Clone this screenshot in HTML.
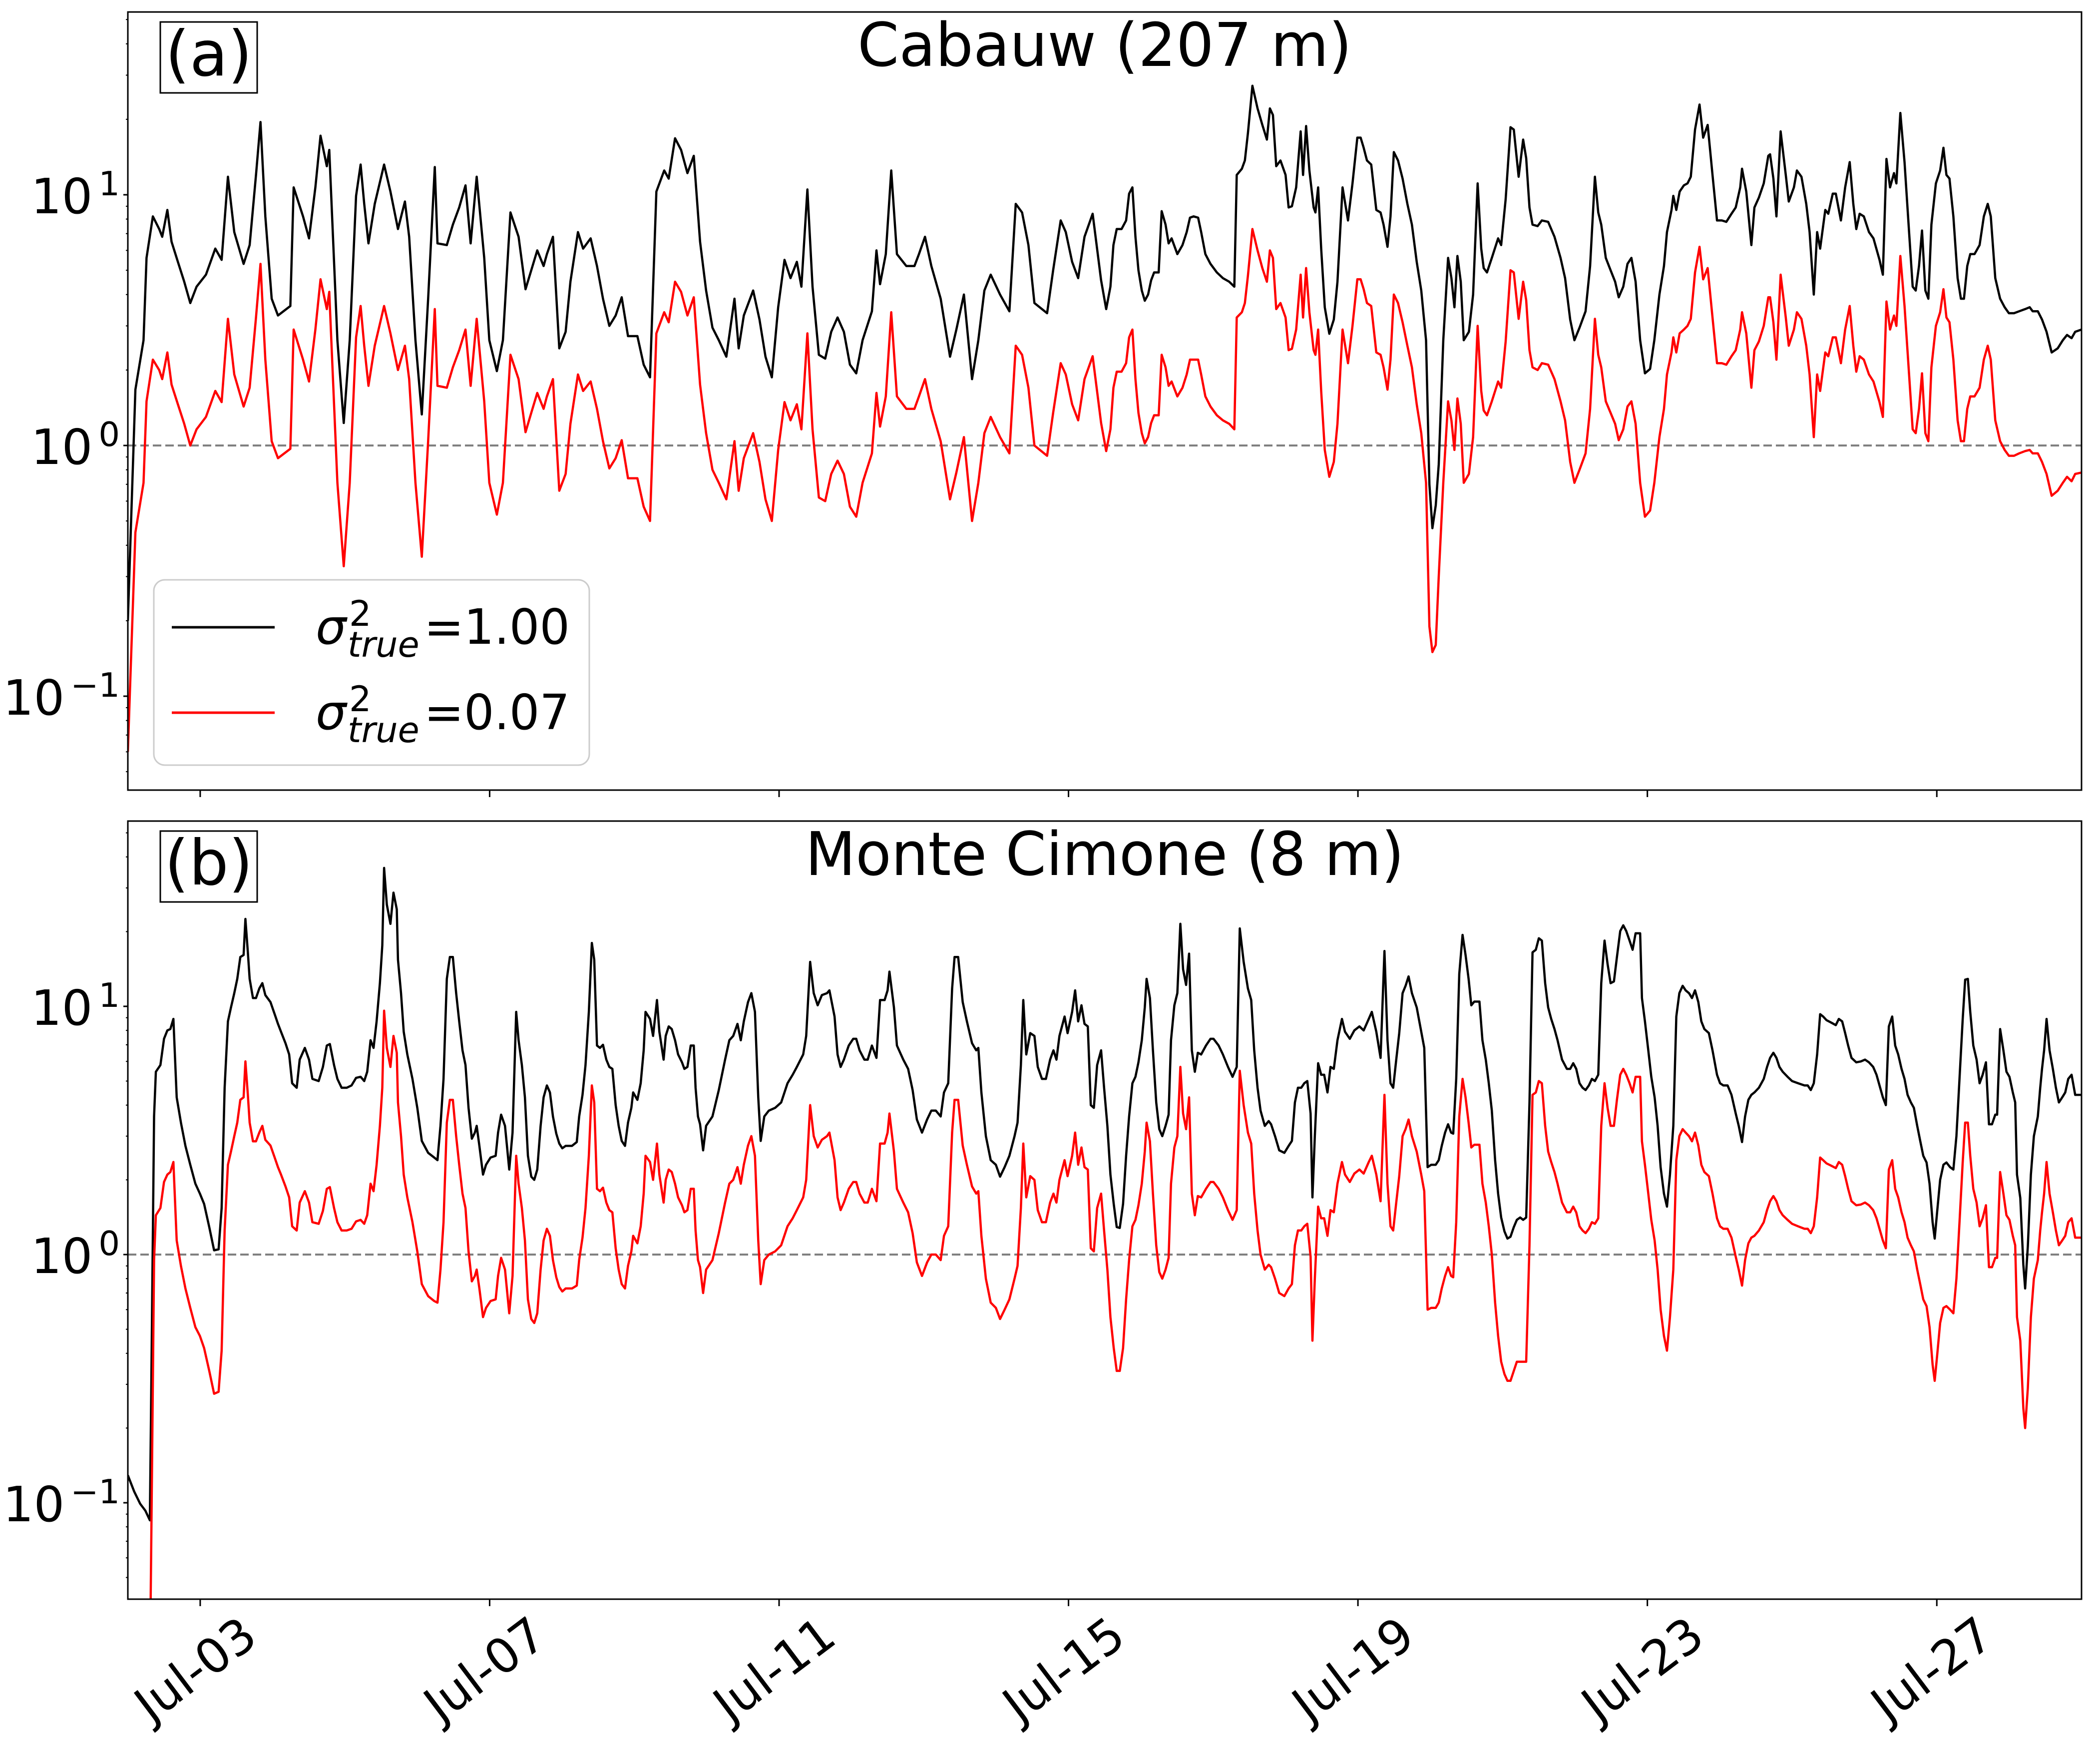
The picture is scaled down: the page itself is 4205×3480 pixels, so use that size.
<!DOCTYPE html>
<html><head><meta charset="utf-8"><title>Cabauw / Monte Cimone</title>
<style>
html,body{margin:0;padding:0;background:#fff;}
svg{display:block;font-family:"DejaVu Sans","Liberation Sans",sans-serif;}
</style></head>
<body>
<svg id="fig" xmlns="http://www.w3.org/2000/svg" width="4205" height="3480" viewBox="0 0 4205 3480">
<rect x="0" y="0" width="4205" height="3480" fill="#fff"/>
<defs>
<clipPath id="clipA"><rect x="256" y="24" width="3912" height="1558"/></clipPath>
<clipPath id="clipB"><rect x="256" y="1644" width="3912" height="1558"/></clipPath>
</defs>
<g id="panelA"></g>
<g id="panelB"></g>
</svg>
<script>
// x categories: hours since start of axis; tick labels
const tickHours = [24, 120, 216, 312, 408, 504, 600];
const tickLabels = ["Jul-03","Jul-07","Jul-11","Jul-15","Jul-19","Jul-23","Jul-27"];
const yTickExps = [1, 0, -1];

// Cabauw (207 m) — sigma^2_true = 1.00  [hour, value]
const cabauwBlack = [[0,0.2],[2.5,1.67],[5.2,2.63],[6.2,5.6],[8.3,8.2],[10.4,7.3],[11.4,6.8],[13.1,8.7],[14.5,6.5],[16.6,5.4],[18.7,4.5],[20.7,3.7],[22.8,4.3],[25.9,4.8],[29.0,6.1],[31.1,5.5],[33.2,11.8],[35.3,7.1],[38.4,5.3],[40.4,6.3],[42.5,12.0],[44.0,19.5],[45.6,8.2],[47.7,3.85],[49.8,3.3],[53.9,3.6],[55.0,10.7],[58.1,8.2],[60.1,6.7],[62.2,10.7],[63.9,17.2],[66.0,13.0],[66.8,15.1],[69.5,2.63],[71.6,1.23],[73.6,2.63],[75.7,9.9],[77.2,13.2],[78.4,9.2],[79.8,6.4],[81.9,9.2],[85.0,13.2],[87.1,10.3],[89.6,7.3],[91.9,9.4],[93.3,6.8],[95.4,2.63],[97.5,1.33],[99.6,3.85],[101.8,12.9],[102.7,6.4],[105.8,6.3],[107.8,7.6],[109.9,8.9],[112.0,10.9],[113.7,6.4],[115.7,11.8],[118.2,5.6],[119.9,2.63],[122.4,1.98],[124.4,2.63],[126.9,8.5],[129.6,6.8],[131.9,4.2],[133.8,5.0],[135.8,6.0],[137.9,5.2],[139.0,5.8],[141.0,6.8],[143.1,2.44],[145.2,2.84],[146.8,4.5],[149.3,7.1],[151.0,6.1],[153.5,6.7],[155.6,5.2],[157.6,3.85],[159.7,3.0],[161.8,3.3],[163.8,3.9],[165.9,2.73],[169.0,2.73],[171.1,2.1],[173.2,1.87],[175.3,10.3],[177.9,12.5],[179.4,11.6],[181.5,16.8],[183.5,15.1],[185.6,12.2],[187.7,14.3],[189.8,6.5],[191.8,4.15],[193.9,2.95],[196.0,2.63],[198.5,2.26],[201.2,3.85],[202.6,2.44],[204.3,3.3],[207.4,4.15],[209.5,3.18],[211.5,2.26],[213.6,1.87],[215.7,3.56],[217.8,5.5],[219.8,4.65],[221.9,5.4],[223.4,4.3],[225.4,10.5],[227.1,4.3],[229.2,2.3],[231.3,2.22],[233.3,2.84],[235.4,3.24],[237.5,2.84],[239.5,2.1],[241.6,1.94],[243.7,2.63],[246.8,3.43],[248.3,6.0],[249.5,4.4],[251.4,5.8],[253.2,12.5],[255.1,5.8],[258.2,5.2],[260.9,5.2],[262.4,5.8],[264.4,6.8],[266.5,5.2],[269.6,3.85],[272.7,2.26],[274.8,2.9],[277.3,4.0],[280.0,1.84],[282.1,2.63],[284.1,4.15],[286.2,4.8],[289.3,4.0],[292.4,3.43],[294.5,9.2],[296.6,8.5],[298.7,6.3],[300.7,3.7],[304.9,3.37],[306.9,5.0],[309.4,7.9],[311.1,7.1],[313.2,5.4],[315.2,4.65],[317.3,6.8],[320.0,8.4],
[322.8,4.56],[324.5,3.5],[325.9,4.3],[326.9,6.3],[328.0,7.3],[329.6,7.3],[331.1,7.9],[332.1,10.1],[333.2,10.7],[334.2,6.8],[335.2,5.0],[336.3,4.15],[337.3,3.78],[338.4,4.0],[339.4,4.56],[340.4,4.9],[341.9,4.9],[342.9,8.6],[344.2,7.6],[345.2,6.4],[346.2,6.7],[348.1,5.8],[349.8,6.3],[351.2,7.1],[352.3,8.1],[353.5,8.2],[355.0,8.1],[356.0,7.1],[357.4,5.8],[359.1,5.3],[361.2,4.9],[363.2,4.65],[365.3,4.5],[367.0,4.3],[367.8,12.0],[369.5,12.7],[370.5,13.7],[371.5,17.6],[373.0,27.2],[374.7,22.1],[376.3,19.0],[377.8,16.6],[378.8,22.1],[379.8,20.8],[380.9,13.0],[382.3,13.7],[384.0,12.0],[385.0,8.9],[386.1,9.0],[387.5,10.7],[389.0,17.9],[389.8,12.0],[390.8,18.8],[391.9,12.5],[393.3,8.9],[393.9,8.5],[394.8,10.7],[395.8,6.1],[397.0,3.56],[398.5,2.79],[400.0,3.18],[401.2,4.5],[402.9,10.7],[404.7,7.9],[406.2,11.1],[407.8,16.9],[408.9,16.9],[409.9,15.4],[411.0,13.7],[412.4,13.2],[414.1,8.7],[415.5,8.5],[416.5,7.6],[417.8,6.2],[418.8,8.2],[419.9,14.8],[421.3,13.7],[422.8,11.6],[424.4,9.2],[425.9,7.6],[427.5,5.4],[429.0,4.15],[429.8,3.3],[430.6,2.63],[431.7,0.70],[432.7,0.468],[433.8,0.577],[434.8,0.84],[436.3,2.63],[437.9,5.6],[439.0,4.65],[440.0,3.56],[441.0,5.7],[442.1,4.5],[443.1,2.63],[444.8,2.84],[446.2,4.0],[447.7,11.1],[448.9,6.1],[449.7,5.1],[450.8,4.9],[452.4,5.6],[454.5,6.7],[455.5,6.3],[457.0,9.6],[458.6,18.6],[459.7,18.2],[461.3,11.8],[462.8,16.6],[463.8,14.0],[464.9,8.9],[465.9,7.6],[467.6,7.5],[469.0,7.9],[471.1,7.8],[473.2,6.8],[475.2,5.6],[476.7,4.65],[478.4,3.18],[479.8,2.63],[481.5,2.95],[483.5,3.43],[485.0,5.2],[486.6,11.8],[487.7,8.5],[488.7,7.6],[490.2,5.6],[491.8,5.0],[493.3,4.5],[494.5,3.9],[496.0,4.3],[497.4,5.3],[498.7,5.6],[500.1,4.5],[501.6,2.63],[503.2,1.94],[504.9,2.02],[506.3,2.63],[508.0,4.0],[509.5,5.2],[510.5,7.1],[512.0,8.7],[512.6,9.9],[513.6,8.7],[514.7,10.3],[516.1,10.9],[517.3,11.1],[518.4,11.8],[519.8,18.2],[521.3,22.9],[522.5,16.9],[524.0,19.0],[525.6,12.0],[527.1,7.9],[528.7,7.9],[530.2,7.8],[531.9,8.4],[533.3,8.9],[534.8,10.7],[535.4,12.7],[536.8,10.3],[538.5,6.3],[539.5,8.9],[541.0,9.75],[542.6,11.1],[544.1,14.3],[544.7,14.5],[545.8,11.6],[546.8,8.2],[548.2,17.9],[549.9,12.0],[550.9,9.4],[552.6,10.7],[553.6,12.5],[555.1,11.8],[556.7,9.2],[557.8,7.1],[559.2,4.0],[560.3,7.1],[561.3,6.1],[563.0,8.7],[564.0,8.4],[565.5,10.1],[566.5,10.1],[568.2,7.9],[569.6,10.7],[571.1,13.5],[572.3,9.2],[573.3,7.3],[574.4,8.4],[575.8,8.2],[577.5,7.1],[579.0,6.7],[581.0,5.5],[582.1,4.8],[583.3,13.9],[584.5,10.7],[585.8,12.2],[586.6,11.1],[587.9,21.2],[589.3,13.5],[590.8,7.1],[592.0,4.3],[593.0,4.15],[594.1,5.2],[595.1,7.2],[596.2,4.15],[597.2,3.85],[598.2,7.6],[599.7,11.1],[601.1,12.5],[602.2,15.4],[603.2,12.0],[604.2,11.6],[605.5,8.2],[606.9,4.65],[608.0,3.85],[609.0,3.85],[610.1,5.2],[611.1,5.8],[612.5,5.8],[614.2,6.3],[615.6,8.2],[616.9,9.2],[617.9,8.2],[619.4,4.65],[621.0,3.85],[622.5,3.56],[623.9,3.37],[625.6,3.37],[627.3,3.43],[629.3,3.5],[630.8,3.56],[631.8,3.43],[633.5,3.43],[634.9,3.18],[636.4,2.84],[638.1,2.35],[640.1,2.44],[641.8,2.63],[643.2,2.76],[644.7,2.68],[645.9,2.84],[648,2.9]];

// Cabauw (207 m) — sigma^2_true = 0.07  [hour, value]
const cabauwRed = [[0,0.06],[2.5,0.45],[5.2,0.71],[6.2,1.5],[8.3,2.2],[10.4,2.0],[11.4,1.84],[13.1,2.35],[14.5,1.75],[16.6,1.46],[18.7,1.22],[20.7,1.0],[22.8,1.16],[25.9,1.3],[29.0,1.65],[31.1,1.49],[33.2,3.2],[35.3,1.92],[38.4,1.43],[40.4,1.7],[42.5,3.24],[44.0,5.3],[45.6,2.2],[47.7,1.04],[49.8,0.89],[53.9,0.97],[55.0,2.9],[58.1,2.2],[60.1,1.8],[62.2,2.9],[63.9,4.6],[66.0,3.5],[66.8,4.1],[69.5,0.71],[71.6,0.33],[73.6,0.71],[75.7,2.7],[77.2,3.6],[78.4,2.5],[79.8,1.73],[81.9,2.5],[85.0,3.6],[87.1,2.8],[89.6,2.0],[91.9,2.5],[93.3,1.84],[95.4,0.71],[97.5,0.36],[99.6,1.04],[101.8,3.5],[102.7,1.73],[105.8,1.7],[107.8,2.05],[109.9,2.4],[112.0,2.9],[113.7,1.73],[115.7,3.2],[118.2,1.5],[119.9,0.71],[122.4,0.53],[124.4,0.71],[126.9,2.3],[129.6,1.84],[131.9,1.13],[133.8,1.35],[135.8,1.62],[137.9,1.4],[139.0,1.57],[141.0,1.84],[143.1,0.66],[145.2,0.77],[146.8,1.22],[149.3,1.92],[151.0,1.65],[153.5,1.8],[155.6,1.4],[157.6,1.04],[159.7,0.81],[161.8,0.89],[163.8,1.05],[165.9,0.74],[169.0,0.74],[171.1,0.57],[173.2,0.5],[175.3,2.8],[177.9,3.4],[179.4,3.1],[181.5,4.5],[183.5,4.1],[185.6,3.3],[187.7,3.9],[189.8,1.75],[191.8,1.12],[193.9,0.8],[196.0,0.71],[198.5,0.61],[201.2,1.04],[202.6,0.66],[204.3,0.89],[207.4,1.12],[209.5,0.86],[211.5,0.61],[213.6,0.5],[215.7,0.96],[217.8,1.49],[219.8,1.26],[221.9,1.46],[223.4,1.16],[225.4,2.8],[227.1,1.16],[229.2,0.62],[231.3,0.6],[233.3,0.77],[235.4,0.87],[237.5,0.77],[239.5,0.57],[241.6,0.52],[243.7,0.71],[246.8,0.93],[248.3,1.62],[249.5,1.19],[251.4,1.57],[253.2,3.4],[255.1,1.57],[258.2,1.4],[260.9,1.4],[262.4,1.57],[264.4,1.84],[266.5,1.4],[269.6,1.04],[272.7,0.61],[274.8,0.78],[277.3,1.08],[280.0,0.5],[282.1,0.71],[284.1,1.12],[286.2,1.3],[289.3,1.08],[292.4,0.93],[294.5,2.5],[296.6,2.3],[298.7,1.7],[300.7,1.0],[304.9,0.91],[306.9,1.35],[309.4,2.13],[311.1,1.92],[313.2,1.46],[315.2,1.26],[317.3,1.84],[320.0,2.27],
[322.8,1.23],[324.5,0.95],[325.9,1.16],[326.9,1.7],[328.0,1.97],[329.6,1.97],[331.1,2.13],[332.1,2.7],[333.2,2.9],[334.2,1.84],[335.2,1.35],[336.3,1.12],[337.3,1.02],[338.4,1.08],[339.4,1.23],[340.4,1.32],[341.9,1.32],[342.9,2.3],[344.2,2.05],[345.2,1.73],[346.2,1.8],[348.1,1.57],[349.8,1.7],[351.2,1.92],[352.3,2.2],[353.5,2.2],[355.0,2.2],[356.0,1.92],[357.4,1.57],[359.1,1.43],[361.2,1.32],[363.2,1.26],[365.3,1.22],[367.0,1.16],[367.8,3.24],[369.5,3.4],[370.5,3.7],[371.5,4.75],[373.0,7.3],[374.7,6.0],[376.3,5.1],[377.8,4.5],[378.8,6.0],[379.8,5.6],[380.9,3.5],[382.3,3.7],[384.0,3.24],[385.0,2.4],[386.1,2.43],[387.5,2.9],[389.0,4.8],[389.8,3.24],[390.8,5.1],[391.9,3.4],[393.3,2.4],[393.9,2.3],[394.8,2.9],[395.8,1.65],[397.0,0.96],[398.5,0.75],[400.0,0.86],[401.2,1.22],[402.9,2.9],[404.7,2.13],[406.2,3.0],[407.8,4.6],[408.9,4.6],[409.9,4.2],[411.0,3.7],[412.4,3.6],[414.1,2.35],[415.5,2.3],[416.5,2.05],[417.8,1.67],[418.8,2.2],[419.9,4.0],[421.3,3.7],[422.8,3.1],[424.4,2.5],[425.9,2.05],[427.5,1.46],[429.0,1.12],[429.8,0.89],[430.6,0.71],[431.7,0.19],[432.7,0.15],[433.8,0.16],[434.8,0.3],[436.3,0.71],[437.9,1.5],[439.0,1.26],[440.0,0.96],[441.0,1.54],[442.1,1.22],[443.1,0.71],[444.8,0.77],[446.2,1.08],[447.7,3.0],[448.9,1.65],[449.7,1.38],[450.8,1.32],[452.4,1.5],[454.5,1.8],[455.5,1.7],[457.0,2.6],[458.6,5.0],[459.7,4.9],[461.3,3.2],[462.8,4.5],[463.8,3.8],[464.9,2.4],[465.9,2.05],[467.6,2.0],[469.0,2.13],[471.1,2.1],[473.2,1.84],[475.2,1.5],[476.7,1.26],[478.4,0.86],[479.8,0.71],[481.5,0.8],[483.5,0.93],[485.0,1.4],[486.6,3.2],[487.7,2.3],[488.7,2.05],[490.2,1.5],[491.8,1.35],[493.3,1.22],[494.5,1.05],[496.0,1.16],[497.4,1.43],[498.7,1.5],[500.1,1.22],[501.6,0.71],[503.2,0.52],[504.9,0.55],[506.3,0.71],[508.0,1.08],[509.5,1.4],[510.5,1.92],[512.0,2.35],[512.6,2.7],[513.6,2.35],[514.7,2.8],[516.1,2.9],[517.3,3.0],[518.4,3.2],[519.8,4.9],[521.3,6.2],[522.5,4.6],[524.0,5.1],[525.6,3.24],[527.1,2.13],[528.7,2.13],[530.2,2.1],[531.9,2.27],[533.3,2.4],[534.8,2.9],[535.4,3.4],[536.8,2.8],[538.5,1.7],[539.5,2.4],[541.0,2.6],[542.6,3.0],[544.1,3.9],[544.7,3.9],[545.8,3.1],[546.8,2.2],[548.2,4.8],[549.9,3.24],[550.9,2.5],[552.6,2.9],[553.6,3.4],[555.1,3.2],[556.7,2.5],[557.8,1.92],[559.2,1.08],[560.3,1.92],[561.3,1.65],[563.0,2.35],[564.0,2.27],[565.5,2.7],[566.5,2.7],[568.2,2.13],[569.6,2.9],[571.1,3.6],[572.3,2.5],[573.3,1.97],[574.4,2.27],[575.8,2.2],[577.5,1.92],[579.0,1.8],[581.0,1.49],[582.1,1.3],[583.3,3.75],[584.5,2.9],[585.8,3.3],[586.6,3.0],[587.9,5.7],[589.3,3.6],[590.8,1.92],[592.0,1.16],[593.0,1.12],[594.1,1.4],[595.1,1.94],[596.2,1.12],[597.2,1.04],[598.2,2.05],[599.7,3.0],[601.1,3.4],[602.2,4.2],[603.2,3.24],[604.2,3.1],[605.5,2.2],[606.9,1.26],[608.0,1.04],[609.0,1.04],[610.1,1.4],[611.1,1.57],[612.5,1.57],[614.2,1.7],[615.6,2.2],[616.9,2.5],[617.9,2.2],[619.4,1.26],[621.0,1.04],[622.5,0.96],[623.9,0.91],[625.6,0.91],[627.3,0.93],[629.3,0.95],[630.8,0.96],[631.8,0.93],[633.5,0.93],[634.9,0.86],[636.4,0.77],[638.1,0.63],[640.1,0.66],[641.8,0.71],[643.2,0.75],[644.7,0.72],[645.9,0.77],[648,0.78]];

// Monte Cimone (8 m) — sigma^2_true = 1.00  [hour, value]
const cimoneBlack = [[0,0.129],[2.1,0.111],[4.1,0.099],[5.8,0.093],[7.3,0.085],[7.9,0.41],[8.7,3.6],[9.3,5.45],[10.8,5.8],[12.0,7.4],[13.1,8.0],[14.1,8.1],[15.1,8.9],[16.2,4.3],[17.6,3.4],[19.1,2.74],[20.7,2.3],[22.4,1.93],[23.9,1.76],[25.3,1.6],[27.0,1.29],[28.6,1.04],[30.1,1.05],[31.1,1.54],[32.1,4.7],[33.2,8.7],[34.2,9.9],[35.3,11.3],[36.3,12.9],[37.3,15.8],[38.4,16.1],[39.0,22.5],[39.8,16.5],[40.4,12.9],[41.5,10.8],[42.5,10.8],[43.6,11.8],[44.6,12.4],[45.6,11.1],[47.3,10.4],[48.7,9.3],[49.8,8.5],[50.8,7.9],[52.3,7.1],[53.5,6.4],[54.5,4.9],[56.0,4.7],[57.0,6.1],[58.7,6.8],[60.1,6.1],[61.2,5.1],[63.3,5.0],[64.7,5.7],[66.0,6.95],[67.0,7.05],[68.4,5.8],[69.5,5.1],[70.9,4.7],[72.6,4.7],[74.2,4.8],[75.7,5.15],[77.2,5.2],[78.4,5.0],[79.4,5.45],[80.5,7.3],[81.5,6.8],[82.5,8.7],[83.6,12.4],[84.4,17.6],[85.0,36.1],[85.9,25.7],[87.1,21.5],[88.1,28.7],[89.2,24.6],[89.6,15.4],[90.6,11.3],[91.5,7.9],[92.7,6.4],[94.4,5.1],[96.0,3.9],[97.5,2.87],[99.6,2.57],[101.6,2.46],[102.7,2.4],[103.7,3.3],[104.7,5.1],[105.8,12.9],[106.8,15.8],[107.8,15.8],[108.9,11.3],[109.9,8.7],[111.0,6.65],[112.0,5.8],[113.0,3.9],[114.1,2.93],[115.1,3.1],[115.7,3.3],[116.6,2.74],[117.8,2.1],[118.8,2.3],[120.3,2.46],[122.0,2.5],[122.8,3.1],[123.8,3.66],[125.1,3.3],[126.5,2.2],[127.6,3.1],[128.8,9.5],[129.6,7.3],[130.7,5.8],[131.7,4.3],[132.7,2.5],[133.8,2.06],[134.8,2.0],[135.8,2.2],[136.9,3.3],[137.9,4.3],[139.0,4.8],[140.0,4.5],[141.0,3.6],[142.1,3.07],[143.1,2.8],[144.1,2.68],[145.2,2.74],[147.3,2.74],[148.9,2.84],[149.7,3.6],[150.8,4.4],[151.8,5.8],[152.9,9.5],[153.9,18.0],[154.7,15.4],[155.6,6.95],[156.6,6.8],[157.6,7.0],[158.7,6.1],[159.7,5.7],[160.7,5.6],[161.8,4.0],[162.8,3.3],[163.8,2.87],[164.9,2.74],[165.9,3.4],[167.0,3.9],[167.6,4.5],[169.0,4.2],[170.1,4.9],[171.1,6.65],[171.7,9.5],[173.2,8.9],[174.2,7.6],[175.5,10.6],[176.3,7.9],[177.7,6.1],[178.4,7.6],[179.4,8.3],[180.4,8.1],[181.5,7.3],[182.5,6.4],[183.8,5.95],[184.6,5.6],[185.6,5.7],[186.7,6.95],[187.7,6.95],[188.3,4.7],[189.1,3.6],[189.8,3.35],[190.8,2.63],[191.8,3.3],[193.9,3.6],[196.0,4.6],[198.1,6.1],[199.5,7.3],[200.8,7.6],[202.2,8.5],[203.3,7.3],[204.3,8.7],[205.7,10.4],[206.8,11.3],[208.0,9.5],[209.1,4.3],[209.9,2.87],[211.1,3.6],[212.6,3.8],[214.7,3.9],[216.7,4.1],[218.8,4.9],[220.5,5.3],[221.9,5.7],[224.0,6.4],[225.0,7.6],[226.3,15.1],[227.5,11.3],[228.8,10.1],[230.2,11.1],[231.9,11.3],[232.7,11.6],[234.4,9.1],[235.4,6.4],[236.4,5.7],[237.5,6.1],[239.1,6.95],[240.6,7.4],[241.6,7.4],[242.7,6.65],[244.3,6.1],[245.4,6.1],[246.8,6.95],[248.3,6.2],[249.5,10.6],[251.0,10.6],[252.0,11.6],[252.6,13.8],[254.1,9.9],[255.1,6.95],[257.2,6.1],[258.8,5.6],[260.3,4.6],[261.7,3.5],[263.4,3.1],[265.1,3.5],[266.5,3.8],[268.0,3.8],[269.6,3.6],[270.7,4.5],[272.1,4.9],[273.4,11.8],[274.2,15.8],[275.4,15.8],[276.9,10.4],[278.3,8.7],[280.0,7.1],[281.4,6.65],[282.1,6.8],[283.1,4.5],[284.6,3.0],[286.2,2.4],[287.9,2.3],[289.3,2.06],[290.8,2.25],[292.4,2.5],[294.1,3.0],[295.1,3.4],[296.2,5.8],[297.0,10.6],[298.0,6.4],[299.3,7.8],[300.7,7.6],[301.8,5.7],[303.2,5.1],[304.5,5.1],[305.9,6.1],[307.0,6.65],[308.0,6.1],[309.0,7.6],[310.7,9.1],[311.7,7.8],[313.2,9.5],[314.2,11.6],[315.2,8.7],[316.3,10.1],[317.3,8.5],[318.4,8.3],[319.4,4.0],[320.4,3.9],[321.5,5.8],
[322.8,6.65],[323.8,4.7],[324.9,3.3],[325.9,2.1],[327.0,1.6],[328.0,1.29],[329.0,1.28],[330.1,1.6],[331.1,2.5],[332.1,3.6],[333.2,4.9],[334.2,5.2],[335.2,5.95],[336.3,7.3],[337.3,9.9],[337.9,12.9],[339.0,10.8],[340.0,6.65],[341.1,4.1],[342.1,3.2],[343.1,3.0],[344.2,3.3],[345.2,3.66],[346.0,7.3],[347.1,10.1],[348.1,11.3],[349.1,21.5],[350.0,14.1],[351.0,12.2],[352.0,16.3],[352.9,6.65],[353.9,5.45],[354.9,6.5],[356.0,6.4],[357.6,6.95],[359.1,7.4],[360.1,7.4],[361.8,6.95],[363.2,6.4],[364.9,5.7],[366.4,5.2],[367.8,5.7],[368.8,20.6],[370.1,15.1],[371.5,11.8],[372.6,10.6],[373.6,6.65],[374.7,4.7],[375.7,3.8],[377.1,3.3],[378.4,3.45],[379.2,3.35],[380.5,3.0],[381.9,2.63],[383.6,2.57],[385.0,2.74],[386.1,2.87],[387.1,4.1],[388.1,4.7],[389.2,4.7],[390.2,4.9],[391.2,5.0],[392.3,3.7],[392.9,1.7],[393.7,3.0],[394.8,5.9],[395.8,5.3],[396.8,5.3],[397.9,4.5],[398.9,5.7],[400.0,5.6],[401.2,7.3],[402.7,8.9],[403.7,7.9],[405.3,7.4],[406.8,8.0],[408.5,8.3],[409.9,8.0],[411.6,8.9],[412.6,9.5],[414.1,7.9],[415.5,6.2],[416.8,16.7],[417.8,7.3],[418.8,4.9],[419.7,4.7],[420.7,6.1],[421.7,7.8],[422.8,11.3],[423.8,12.1],[424.8,13.2],[425.9,11.3],[427.5,9.9],[429.0,7.9],[430.0,6.8],[431.1,2.25],[432.3,2.3],[433.8,2.3],[434.8,2.4],[435.8,2.74],[436.9,3.1],[437.9,3.35],[438.9,3.1],[439.6,3.07],[440.6,5.1],[441.6,13.5],[442.7,19.4],[443.7,16.1],[444.7,12.9],[445.6,10.1],[446.6,10.45],[448.3,10.45],[449.3,7.3],[450.4,6.1],[451.4,4.9],[452.4,3.8],[453.5,2.4],[454.5,1.76],[455.5,1.41],[456.6,1.24],[457.6,1.16],[458.6,1.18],[459.7,1.29],[460.7,1.38],[461.8,1.41],[462.8,1.38],[463.8,1.41],[464.9,4.1],[465.9,16.5],[467.0,16.9],[468.0,18.8],[469.0,18.4],[470.1,12.4],[471.1,9.9],[472.1,8.9],[473.2,8.1],[474.2,7.3],[475.7,6.1],[477.3,5.6],[478.4,5.6],[479.4,5.9],[480.4,5.6],[481.5,4.9],[482.5,4.7],[483.5,4.6],[484.6,4.8],[485.6,5.1],[486.6,5.0],[487.7,5.3],[488.7,12.4],[489.8,18.4],[490.8,14.8],[491.8,12.4],[492.9,12.6],[493.9,15.8],[495.0,20.1],[496.0,21.2],[497.0,20.1],[498.1,18.4],[499.1,16.9],[500.1,19.7],[501.6,19.7],[502.2,10.8],[503.2,8.7],[504.3,6.65],[505.3,5.2],[506.4,4.3],[507.4,3.3],[508.4,2.25],[509.5,1.76],[510.5,1.56],[511.5,2.1],[512.6,3.3],[513.6,9.1],[514.6,11.3],[515.7,12.1],[516.7,11.6],[517.8,11.3],[518.8,10.8],[519.8,11.6],[520.9,10.4],[521.9,8.7],[522.9,8.1],[524.4,7.8],[525.6,6.65],[527.1,5.3],[528.1,4.9],[529.2,4.8],[530.6,4.8],[531.9,4.4],[533.3,3.7],[534.3,3.3],[535.4,2.84],[536.4,3.6],[537.5,4.2],[538.5,4.4],[539.5,4.5],[541.0,4.7],[542.6,5.1],[543.7,5.7],[544.7,6.2],[545.8,6.5],[546.8,6.2],[547.8,5.7],[548.9,5.45],[550.5,5.2],[552.0,5.0],[554.0,4.9],[556.1,4.8],[557.2,4.8],[558.2,4.6],[559.2,4.9],[560.3,6.4],[561.3,9.3],[562.3,9.1],[563.4,8.8],[565.0,8.6],[566.5,8.4],[567.5,8.9],[568.6,8.7],[569.6,7.8],[570.6,6.95],[571.7,6.2],[573.3,5.95],[574.8,6.0],[576.2,6.1],[577.5,5.95],[578.9,5.7],[580.0,5.3],[581.0,4.8],[582.1,4.3],[583.1,4.0],[584.1,8.3],[585.2,9.1],[586.2,6.95],[587.2,6.4],[588.3,5.6],[589.3,5.1],[590.3,4.4],[591.4,4.1],[592.4,3.9],[593.5,3.3],[594.5,2.87],[595.5,2.5],[596.6,2.35],[597.6,1.93],[598.6,1.35],[599.3,1.16],[600.1,1.48],[601.1,2.0],[602.2,2.3],[603.2,2.35],[604.4,2.25],[605.5,2.2],[606.5,3.0],[607.6,5.3],[608.6,8.9],[609.4,12.8],[610.3,12.9],[611.1,9.5],[612.1,6.95],[613.2,6.1],[614.2,4.9],[615.2,5.3],[616.3,5.95],[617.3,3.35],[618.3,3.35],[619.4,3.66],[620.0,3.66],[621.0,8.1],[622.1,6.65],[623.1,5.45],[624.1,5.2],[625.2,4.5],[626.0,4.1],[626.6,2.1],[627.7,1.69],[628.7,0.91],[629.3,0.73],[630.2,1.08],[631.2,2.1],[632.2,3.0],[633.5,3.6],[634.3,4.7],[634.9,5.6],[635.6,6.65],[636.4,8.9],[637.4,6.65],[638.5,5.6],[639.5,4.7],[640.5,4.1],[641.6,4.3],[642.6,4.5],[643.6,5.1],[644.7,5.3],[645.9,4.4],[648,4.4]];

// Monte Cimone (8 m) — sigma^2_true = 0.07  [hour, value]
const cimoneRed = [[0,0.02],[2.1,0.02],[4.1,0.02],[5.8,0.02],[7.3,0.02],[7.9,0.1],[8.7,0.95],[9.3,1.44],[10.8,1.54],[12.0,1.96],[13.1,2.1],[14.1,2.15],[15.1,2.36],[16.2,1.14],[17.6,0.9],[19.1,0.73],[20.7,0.61],[22.4,0.51],[23.9,0.47],[25.3,0.42],[27.0,0.34],[28.6,0.275],[30.1,0.28],[31.1,0.41],[32.1,1.25],[33.2,2.3],[34.2,2.6],[35.3,3.0],[36.3,3.4],[37.3,4.2],[38.4,4.3],[39.0,6.0],[39.8,4.4],[40.4,3.4],[41.5,2.86],[42.5,2.86],[43.6,3.1],[44.6,3.3],[45.6,2.9],[47.3,2.75],[48.7,2.46],[49.8,2.25],[50.8,2.1],[52.3,1.88],[53.5,1.7],[54.5,1.3],[56.0,1.25],[57.0,1.62],[58.7,1.8],[60.1,1.62],[61.2,1.35],[63.3,1.33],[64.7,1.5],[66.0,1.84],[67.0,1.87],[68.4,1.54],[69.5,1.35],[70.9,1.25],[72.6,1.25],[74.2,1.27],[75.7,1.36],[77.2,1.38],[78.4,1.33],[79.4,1.44],[80.5,1.93],[81.5,1.8],[82.5,2.3],[83.6,3.3],[84.4,4.7],[85.0,9.6],[85.9,6.8],[87.1,5.7],[88.1,7.6],[89.2,6.5],[89.6,4.1],[90.6,3.0],[91.5,2.1],[92.7,1.7],[94.4,1.35],[96.0,1.03],[97.5,0.76],[99.6,0.68],[101.6,0.65],[102.7,0.64],[103.7,0.87],[104.7,1.35],[105.8,3.4],[106.8,4.2],[107.8,4.2],[108.9,3.0],[109.9,2.3],[111.0,1.76],[112.0,1.54],[113.0,1.03],[114.1,0.78],[115.1,0.82],[115.7,0.87],[116.6,0.73],[117.8,0.56],[118.8,0.61],[120.3,0.65],[122.0,0.66],[122.8,0.82],[123.8,0.97],[125.1,0.87],[126.5,0.58],[127.6,0.82],[128.8,2.5],[129.6,1.93],[130.7,1.54],[131.7,1.14],[132.7,0.66],[133.8,0.55],[134.8,0.53],[135.8,0.58],[136.9,0.87],[137.9,1.14],[139.0,1.27],[140.0,1.19],[141.0,0.95],[142.1,0.81],[143.1,0.74],[144.1,0.71],[145.2,0.73],[147.3,0.73],[148.9,0.75],[149.7,0.95],[150.8,1.17],[151.8,1.54],[152.9,2.5],[153.9,4.8],[154.7,4.1],[155.6,1.84],[156.6,1.8],[157.6,1.86],[158.7,1.62],[159.7,1.51],[160.7,1.48],[161.8,1.06],[162.8,0.87],[163.8,0.76],[164.9,0.73],[165.9,0.9],[167.0,1.03],[167.6,1.19],[169.0,1.11],[170.1,1.3],[171.1,1.76],[171.7,2.5],[173.2,2.36],[174.2,2.0],[175.5,2.8],[176.3,2.1],[177.7,1.62],[178.4,2.0],[179.4,2.2],[180.4,2.15],[181.5,1.93],[182.5,1.7],[183.8,1.58],[184.6,1.48],[185.6,1.51],[186.7,1.84],[187.7,1.84],[188.3,1.25],[189.1,0.95],[189.8,0.89],[190.8,0.7],[191.8,0.87],[193.9,0.95],[196.0,1.22],[198.1,1.62],[199.5,1.93],[200.8,2.0],[202.2,2.25],[203.3,1.93],[204.3,2.3],[205.7,2.75],[206.8,3.0],[208.0,2.5],[209.1,1.14],[209.9,0.76],[211.1,0.95],[212.6,1.0],[214.7,1.03],[216.7,1.09],[218.8,1.3],[220.5,1.4],[221.9,1.51],[224.0,1.7],[225.0,2.0],[226.3,4.0],[227.5,3.0],[228.8,2.7],[230.2,2.9],[231.9,3.0],[232.7,3.1],[234.4,2.4],[235.4,1.7],[236.4,1.51],[237.5,1.62],[239.1,1.84],[240.6,1.96],[241.6,1.96],[242.7,1.76],[244.3,1.62],[245.4,1.62],[246.8,1.84],[248.3,1.64],[249.5,2.8],[251.0,2.8],[252.0,3.1],[252.6,3.7],[254.1,2.6],[255.1,1.84],[257.2,1.62],[258.8,1.48],[260.3,1.22],[261.7,0.93],[263.4,0.82],[265.1,0.93],[266.5,1.0],[268.0,1.0],[269.6,0.95],[270.7,1.19],[272.1,1.3],[273.4,3.1],[274.2,4.2],[275.4,4.2],[276.9,2.75],[278.3,2.3],[280.0,1.88],[281.4,1.76],[282.1,1.8],[283.1,1.19],[284.6,0.8],[286.2,0.64],[287.9,0.61],[289.3,0.55],[290.8,0.6],[292.4,0.66],[294.1,0.8],[295.1,0.9],[296.2,1.54],[297.0,2.8],[298.0,1.7],[299.3,2.07],[300.7,2.0],[301.8,1.51],[303.2,1.35],[304.5,1.35],[305.9,1.62],[307.0,1.76],[308.0,1.62],[309.0,2.0],[310.7,2.4],[311.7,2.07],[313.2,2.5],[314.2,3.1],[315.2,2.3],[316.3,2.7],[317.3,2.25],[318.4,2.2],[319.4,1.06],[320.4,1.03],[321.5,1.54],
[322.8,1.76],[323.8,1.25],[324.9,0.87],[325.9,0.56],[327.0,0.42],[328.0,0.34],[329.0,0.34],[330.1,0.42],[331.1,0.66],[332.1,0.95],[333.2,1.3],[334.2,1.38],[335.2,1.58],[336.3,1.93],[337.3,2.6],[337.9,3.4],[339.0,2.86],[340.0,1.76],[341.1,1.09],[342.1,0.85],[343.1,0.8],[344.2,0.87],[345.2,0.97],[346.0,1.93],[347.1,2.7],[348.1,3.0],[349.1,5.7],[350.0,3.7],[351.0,3.2],[352.0,4.3],[352.9,1.76],[353.9,1.44],[354.9,1.72],[356.0,1.7],[357.6,1.84],[359.1,1.96],[360.1,1.96],[361.8,1.84],[363.2,1.7],[364.9,1.51],[366.4,1.38],[367.8,1.51],[368.8,5.5],[370.1,4.0],[371.5,3.1],[372.6,2.8],[373.6,1.76],[374.7,1.25],[375.7,1.0],[377.1,0.87],[378.4,0.91],[379.2,0.89],[380.5,0.8],[381.9,0.7],[383.6,0.68],[385.0,0.73],[386.1,0.76],[387.1,1.09],[388.1,1.25],[389.2,1.25],[390.2,1.3],[391.2,1.33],[392.3,0.98],[392.9,0.45],[393.7,0.8],[394.8,1.56],[395.8,1.4],[396.8,1.4],[397.9,1.19],[398.9,1.51],[400.0,1.48],[401.2,1.93],[402.7,2.36],[403.7,2.1],[405.3,1.96],[406.8,2.12],[408.5,2.2],[409.9,2.12],[411.6,2.36],[412.6,2.5],[414.1,2.1],[415.5,1.64],[416.8,4.4],[417.8,1.93],[418.8,1.3],[419.7,1.25],[420.7,1.62],[421.7,2.07],[422.8,3.0],[423.8,3.2],[424.8,3.5],[425.9,3.0],[427.5,2.6],[429.0,2.1],[430.0,1.8],[431.1,0.6],[432.3,0.61],[433.8,0.61],[434.8,0.64],[435.8,0.73],[436.9,0.82],[437.9,0.89],[438.9,0.82],[439.6,0.81],[440.6,1.35],[441.6,3.6],[442.7,5.1],[443.7,4.3],[444.7,3.4],[445.6,2.7],[446.6,2.77],[448.3,2.77],[449.3,1.93],[450.4,1.62],[451.4,1.3],[452.4,1.0],[453.5,0.64],[454.5,0.47],[455.5,0.37],[456.6,0.33],[457.6,0.31],[458.6,0.31],[459.7,0.34],[460.7,0.37],[461.8,0.37],[462.8,0.37],[463.8,0.37],[464.9,1.09],[465.9,4.4],[467.0,4.5],[468.0,5.0],[469.0,4.9],[470.1,3.3],[471.1,2.6],[472.1,2.36],[473.2,2.15],[474.2,1.93],[475.7,1.62],[477.3,1.48],[478.4,1.48],[479.4,1.56],[480.4,1.48],[481.5,1.3],[482.5,1.25],[483.5,1.22],[484.6,1.27],[485.6,1.35],[486.6,1.33],[487.7,1.4],[488.7,3.3],[489.8,4.9],[490.8,3.9],[491.8,3.3],[492.9,3.3],[493.9,4.2],[495.0,5.3],[496.0,5.6],[497.0,5.3],[498.1,4.9],[499.1,4.5],[500.1,5.2],[501.6,5.2],[502.2,2.86],[503.2,2.3],[504.3,1.76],[505.3,1.38],[506.4,1.14],[507.4,0.87],[508.4,0.6],[509.5,0.47],[510.5,0.41],[511.5,0.56],[512.6,0.87],[513.6,2.4],[514.6,3.0],[515.7,3.2],[516.7,3.1],[517.8,3.0],[518.8,2.86],[519.8,3.1],[520.9,2.75],[521.9,2.3],[522.9,2.15],[524.4,2.07],[525.6,1.76],[527.1,1.4],[528.1,1.3],[529.2,1.27],[530.6,1.27],[531.9,1.17],[533.3,0.98],[534.3,0.87],[535.4,0.75],[536.4,0.95],[537.5,1.11],[538.5,1.17],[539.5,1.19],[541.0,1.25],[542.6,1.35],[543.7,1.51],[544.7,1.64],[545.8,1.72],[546.8,1.64],[547.8,1.51],[548.9,1.44],[550.5,1.38],[552.0,1.33],[554.0,1.3],[556.1,1.27],[557.2,1.27],[558.2,1.22],[559.2,1.3],[560.3,1.7],[561.3,2.46],[562.3,2.4],[563.4,2.33],[565.0,2.28],[566.5,2.23],[567.5,2.36],[568.6,2.3],[569.6,2.07],[570.6,1.84],[571.7,1.64],[573.3,1.58],[574.8,1.59],[576.2,1.62],[577.5,1.58],[578.9,1.51],[580.0,1.4],[581.0,1.27],[582.1,1.14],[583.1,1.06],[584.1,2.2],[585.2,2.4],[586.2,1.84],[587.2,1.7],[588.3,1.48],[589.3,1.35],[590.3,1.17],[591.4,1.09],[592.4,1.03],[593.5,0.87],[594.5,0.76],[595.5,0.66],[596.6,0.62],[597.6,0.51],[598.6,0.36],[599.3,0.31],[600.1,0.39],[601.1,0.53],[602.2,0.61],[603.2,0.62],[604.4,0.6],[605.5,0.58],[606.5,0.8],[607.6,1.4],[608.6,2.36],[609.4,3.4],[610.3,3.4],[611.1,2.5],[612.1,1.84],[613.2,1.62],[614.2,1.3],[615.2,1.4],[616.3,1.58],[617.3,0.89],[618.3,0.89],[619.4,0.97],[620.0,0.97],[621.0,2.15],[622.1,1.76],[623.1,1.44],[624.1,1.38],[625.2,1.19],[626.0,1.09],[626.6,0.56],[627.7,0.45],[628.7,0.24],[629.3,0.2],[630.2,0.29],[631.2,0.56],[632.2,0.8],[633.5,0.95],[634.3,1.25],[634.9,1.48],[635.6,1.76],[636.4,2.36],[637.4,1.76],[638.5,1.48],[639.5,1.25],[640.5,1.09],[641.6,1.14],[642.6,1.19],[643.6,1.35],[644.7,1.4],[645.9,1.17],[648,1.17]];

const NS = "http://www.w3.org/2000/svg";
const X0 = 256, X1 = 4168, H0 = 0, H1 = 648;
function xOf(h){ return X0 + (h - H0) / (H1 - H0) * (X1 - X0); }

const panels = [
  {g:"panelA", key:"a", top:24, bottom:1582, y0:892, dec:502, title:"Cabauw (207 m)", titleLen:990, letter:"(a)", clip:"clipA", black:cabauwBlack, red:cabauwRed, xlabels:false, legend:true},
  {g:"panelB", key:"b", top:1644, bottom:3202, y0:2512, dec:497, title:"Monte Cimone (8 m)", titleLen:1199, letter:"(b)", clip:"clipB", black:cimoneBlack, red:cimoneRed, xlabels:true, legend:false}
];

function mk(tag, attrs, parent){
  const e = document.createElementNS(NS, tag);
  for (const k in attrs) e.setAttribute(k, attrs[k]);
  if (parent) parent.appendChild(e);
  return e;
}

panels.forEach(function(p){
  const g = document.getElementById(p.g);
  const yOf = function(v){ return p.y0 - Math.log10(v) * p.dec; };
  const vMin = Math.pow(10, -(p.bottom - p.y0) / p.dec);
  const vMax = Math.pow(10, (p.y0 - p.top) / p.dec);

  // reference line at 1
  const ref = mk("line", {x1:X0, x2:X1, y1:yOf(1), y2:yOf(1), stroke:"#808080", "stroke-width":4, "stroke-dasharray":"17 8"}, g);
  
  

  // series
  const series = [[p.black, "#000000", "series-sigma-1-00"], [p.red, "#ff0000", "series-sigma-0-07"]];
  series.forEach(function(s){
    let d = "";
    s[0].forEach(function(pt, i){
      d += (i ? "L" : "M") + xOf(pt[0]).toFixed(1) + "," + yOf(pt[1]).toFixed(1);
    });
    const path = mk("path", {d:d, fill:"none", stroke:s[1], "stroke-width":4.5, "stroke-linejoin":"round", "clip-path":"url(#"+p.clip+")"}, g);
    
    
  });

  // frame
  const frame = mk("rect", {x:X0, y:p.top, width:X1-X0, height:p.bottom-p.top, fill:"none", stroke:"#000", "stroke-width":3}, g);
  
  

  // y minor ticks
  for (let k = -2; k <= 1; k++){
    for (let m = 2; m <= 9; m++){
      const v = m * Math.pow(10, k);
      if (v < vMin || v > vMax) continue;
      const t = mk("line", {x1:X0-4, x2:X0, y1:yOf(v), y2:yOf(v), stroke:"#000", "stroke-width":2}, g);
      
      
    }
  }
  // y major ticks + labels
  yTickExps.forEach(function(ex){
    const y = yOf(Math.pow(10, ex));
    const t = mk("line", {x1:X0-9, x2:X0, y1:y, y2:y, stroke:"#000", "stroke-width":3}, g);
    
    
    const lab = mk("text", {x:240, y:y+37, "text-anchor":"end", "font-size":97, fill:"#000"}, g);
    
    
    lab.appendChild(document.createTextNode("10"));
    const sup = mk("tspan", {dx:12, dy:-36, "font-size":67}, lab);
    sup.textContent = ex < 0 ? "\u2212" + Math.abs(ex) : String(ex);
  });

  // x ticks and labels
  tickHours.forEach(function(h, i){
    const x = xOf(h);
    const t = mk("line", {x1:x, x2:x, y1:p.bottom, y2:p.bottom+14, stroke:"#000", "stroke-width":3}, g);
    
    
    if (p.xlabels){
      const cy = p.bottom + 140;
      const lab = mk("text", {x:x-10, y:cy+34, "text-anchor":"middle", "font-size":96, fill:"#000", transform:"rotate(-37 "+(x-10)+" "+cy+")"}, g);
      
      
      lab.textContent = tickLabels[i];
    }
  });

  // title
  const title = mk("text", {x:(X0+X1)/2, y:p.top+108, "text-anchor":"middle", "font-size":120, fill:"#000", textLength:p.titleLen, lengthAdjust:"spacingAndGlyphs"}, g);
  
  
  title.textContent = p.title;

  // panel letter box
  const box = mk("rect", {x:321, y:p.top+20, width:194, height:142, fill:"#fff", stroke:"#000", "stroke-width":3}, g);
  
  
  const letter = mk("text", {x:418, y:p.top+127, "text-anchor":"middle", "font-size":125, fill:"#000"}, g);
  
  
  letter.textContent = p.letter;

  if (p.legend){
    const lg = mk("g", {}, g);
    
    
    const lb = mk("rect", {x:308, y:1161, width:872, height:371, rx:22, ry:22, fill:"#fff", "fill-opacity":0.85, stroke:"#cccccc", "stroke-width":3}, lg);
    
    
    const entries = [["#000000", 1256, "1.00", "legend-entry-sigma-1-00"], ["#ff0000", 1427, "0.07", "legend-entry-sigma-0-07"]];
    entries.forEach(function(en){
      const eg = mk("g", {}, lg);
      
      
      mk("line", {x1:344, x2:550, y1:en[1], y2:en[1], stroke:en[0], "stroke-width":5}, eg);
      const base = en[1] + 33;
      const s1 = mk("text", {x:632, y:base, "font-size":97, "font-style":"italic", fill:"#000"}, eg);
      s1.textContent = "\u03c3";
      const s2 = mk("text", {x:699, y:base-36, "font-size":70, fill:"#000"}, eg);
      s2.textContent = "2";
      const s3 = mk("text", {x:696, y:base+26, "font-size":70, "font-style":"italic", fill:"#000"}, eg);
      s3.textContent = "true";
      const s4 = mk("text", {x:849, y:base, "font-size":97, fill:"#000", textLength:292, lengthAdjust:"spacingAndGlyphs"}, eg);
      s4.textContent = "=" + en[2];
    });
  }
});
</script>
</body></html>
